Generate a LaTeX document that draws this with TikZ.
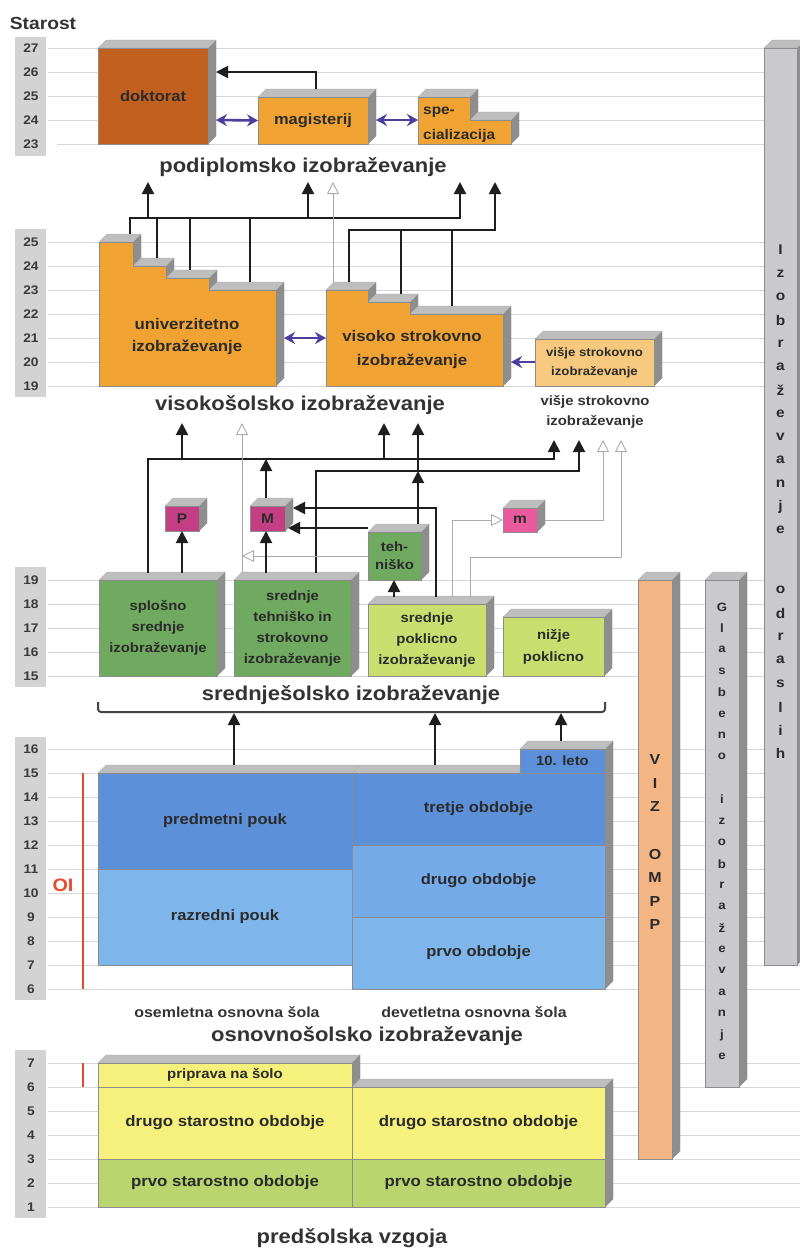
\documentclass[tikz,border=0pt]{standalone}
\usepackage{fontspec}
\setmainfont{Liberation Sans}[FakeStretch=1.1]
\usetikzlibrary{arrows.meta}
\definecolor{cgrid}{HTML}{D6D6D6}
\definecolor{cagecol}{HTML}{D3D3D3}
\definecolor{cage}{HTML}{3A3A3A}
\definecolor{ctopg}{HTML}{BEBEBE}
\definecolor{csideg}{HTML}{8E8E8E}
\definecolor{cdok}{HTML}{C2601F}
\definecolor{corange}{HTML}{F0A232}
\definecolor{cvisje}{HTML}{F6C97E}
\definecolor{cdgr}{HTML}{70A960}
\definecolor{clgr}{HTML}{C9DE6E}
\definecolor{cmag}{HTML}{C43E84}
\definecolor{cpink}{HTML}{EA5A9C}
\definecolor{cdblue}{HTML}{5C90D9}
\definecolor{cmblue}{HTML}{74AAE8}
\definecolor{clblue}{HTML}{7EB6EC}
\definecolor{cyel}{HTML}{F6F17C}
\definecolor{cpsgr}{HTML}{BAD46E}
\definecolor{cviz}{HTML}{F3B583}
\definecolor{cgreyb}{HTML}{C9C9CE}
\definecolor{cpur}{HTML}{4B3E9E}
\definecolor{carr}{HTML}{1E1E1E}
\definecolor{chol}{HTML}{ABABAB}
\definecolor{cred}{HTML}{E84A2E}
\definecolor{ctxt}{HTML}{2B2B2B}
\definecolor{chead}{HTML}{333333}
\definecolor{cbrk}{HTML}{444444}
\newcommand\fsz[2]{\fontsize{#1}{#2}\selectfont}
\newcommand\myfaces[4]{%
  \filldraw[sidef] (#3,#2) -- ({#3+8},{#2-8}) -- ({#3+8},{#4-8}) -- (#3,#4) -- cycle;
  \filldraw[topf] (#1,#2) -- ({#1+8},{#2-8}) -- ({#3+8},{#2-8}) -- (#3,#2) -- cycle;}
\newcommand\mybox[9]{%
  \myfaces{#2}{#3}{#4}{#5}
  \node[box, fill=#6, anchor=north west, minimum width={(#4-#2)*1pt}, minimum height={(#5-#3)*1pt}, font=\bfseries\fsz{#7}{#8}] (#1) at (#2,#3) {#9};}
\begin{document}
\begin{tikzpicture}[x=1pt,y=-1pt,
 gline/.style={draw=cgrid, line width=0.9pt},
 sidef/.style={fill=csideg, draw=black!45, line width=0.3pt},
 topf/.style={fill=ctopg, draw=black!35, line width=0.3pt},
 box/.style={draw=black!45, line width=0.4pt, inner sep=0pt, outer sep=0pt, align=center, text=ctxt},
 age/.style={font=\bfseries\fsz{12.5}{14}, text=cage, inner sep=0pt},
 head/.style={font=\bfseries\fsz{20}{24}, text=chead, inner sep=0pt},
 lab/.style={text=ctxt, inner sep=0pt, align=center},
 vl/.style={font=\bfseries\fsz{14}{14}, text=ctxt, inner sep=0pt},
 arr/.style={draw=carr, line width=2pt, -{Triangle[length=12pt,width=12pt]}},
 bus/.style={draw=carr, line width=2pt},
 drop/.style={draw=carr, line width=1.6pt},
 hol/.style={draw=chol, line width=0.9pt, -{Triangle[open,length=12pt,width=12pt,fill=white]}},
 lite/.style={draw=chol, line width=0.9pt},
 dar/.style={draw=cpur, line width=2.6pt, {Stealth[length=11pt,width=12pt]}-{Stealth[length=11pt,width=12pt]}},
 sar/.style={draw=cpur, line width=2.6pt, -{Stealth[length=11pt,width=12pt]}},
 redl/.style={draw=cred, line width=2.2pt},
 brk/.style={draw=cbrk, line width=2pt, rounded corners=3pt},
 frontf/.style={draw=black!45, line width=0.4pt}
]
\useasboundingbox (0,0) rectangle (800,1248);
\fill[white] (0,0) rectangle (800,1248);

% ---------- grid lines ----------
\foreach \y in {48,72,96,120} {\draw[gline] (48,\y) -- (800,\y);}
\draw[gline] (57,144) -- (800,144);
\foreach \y in {242,266,...,386} {\draw[gline] (48,\y) -- (800,\y);}
\foreach \y in {580,604,...,676} {\draw[gline] (48,\y) -- (800,\y);}
\foreach \y in {749,773,...,989} {\draw[gline] (48,\y) -- (800,\y);}
\foreach \y in {1063,1087,...,1207} {\draw[gline] (48,\y) -- (800,\y);}

% ---------- age columns ----------
\fill[cagecol] (15,37) rectangle (46,156);
\fill[cagecol] (15,229) rectangle (46,397);
\fill[cagecol] (15,567) rectangle (46,687);
\fill[cagecol] (15,737) rectangle (46,1000);
\fill[cagecol] (15,1050) rectangle (46,1218);
\foreach \a [count=\i from 0] in {27,...,23} {\node[age] (ageA\a) at (31,{48+24*\i}) {\a};}
\foreach \a [count=\i from 0] in {25,...,19} {\node[age] (ageB\a) at (31,{242+24*\i}) {\a};}
\foreach \a [count=\i from 0] in {19,...,15} {\node[age] (ageC\a) at (31,{580+24*\i}) {\a};}
\foreach \a [count=\i from 0] in {16,...,6} {\node[age] (ageD\a) at (31,{749+24*\i}) {\a};}
\foreach \a [count=\i from 0] in {7,...,1} {\node[age] (ageE\a) at (31,{1063+24*\i}) {\a};}
\node[head, font=\bfseries\fsz{17.5}{20}] (starost) at (43,23) {Starost};

% ---------- vertical bars ----------
\mybox{odr}{764}{48}{797}{965}{cgreyb}{14}{14}{}
\mybox{viz}{638}{580}{672}{1159}{cviz}{14}{14}{}
\mybox{glas}{705}{580}{739}{1087}{cgreyb}{12}{12}{}
\foreach \c [count=\i from 0] in {I,z,o,b,r,a,ž,e,v,a,n,j,e} {\node[vl] (odA\i) at (780.5,{250+23.35*\i}) {\c};}
\foreach \c [count=\i from 0] in {o,d,r,a,s,l,i,h} {\node[vl] (odB\i) at (780.5,{590+23.4*\i}) {\c};}
\foreach \c/\k in {V/0,I/1,Z/2,O/4,M/5,P/6,P/7} {\node[vl, font=\bfseries\fsz{14.5}{15}] (vz\k) at (655,{760+23.5*\k}) {\c};}
\foreach \c/\k in {G/0,l/1,a/2,s/3,b/4,e/5,n/6,o/7,i/9,z/10,o/11,b/12,r/13,a/14,ž/15,e/16,v/17,a/18,n/19,j/20,e/21} {\node[vl, font=\bfseries\fsz{12}{12}] (gl\k) at (722,{607+21.4*\k}) {\c};}

% ---------- podiplomsko ----------
\mybox{dokt}{98}{48}{208}{144}{cdok}{15}{18}{doktorat}
\mybox{magi}{258}{97}{368}{144}{corange}{15}{18}{magisterij}
\filldraw[sidef] (470,97) -- (478,89) -- (478,112) -- (470,120) -- cycle;
\filldraw[sidef] (511,120) -- (519,112) -- (519,136) -- (511,144) -- cycle;
\filldraw[topf] (418,97) -- (426,89) -- (478,89) -- (470,97) -- cycle;
\filldraw[topf] (470,120) -- (478,112) -- (519,112) -- (511,120) -- cycle;
\filldraw[frontf, fill=corange] (418,144) -- (418,97) -- (470,97) -- (470,120) -- (511,120) -- (511,144) -- cycle;
\node[lab, anchor=west, font=\bfseries\fsz{14}{16}] (spe1) at (423,112) {spe-};
\node[lab, anchor=west, font=\bfseries\fsz{14}{16}] (spe2) at (423,136) {cializacija};
\node[head] (podipl) at (303,167) {podiplomsko izobraževanje};

% ---------- visokošolsko ----------
% univerzitetno (stepped)
\filldraw[sidef] (133,242) -- (141,234) -- (141,258) -- (133,266) -- cycle;
\filldraw[sidef] (166,266) -- (174,258) -- (174,270) -- (166,278) -- cycle;
\filldraw[sidef] (209,278) -- (217,270) -- (217,282) -- (209,290) -- cycle;
\filldraw[sidef] (276,290) -- (284,282) -- (284,378) -- (276,386) -- cycle;
\filldraw[topf] (99,242) -- (107,234) -- (141,234) -- (133,242) -- cycle;
\filldraw[topf] (133,266) -- (141,258) -- (174,258) -- (166,266) -- cycle;
\filldraw[topf] (166,278) -- (174,270) -- (217,270) -- (209,278) -- cycle;
\filldraw[topf] (209,290) -- (217,282) -- (284,282) -- (276,290) -- cycle;
\filldraw[frontf, fill=corange] (99,386) -- (99,242) -- (133,242) -- (133,266) -- (166,266) -- (166,278) -- (209,278) -- (209,290) -- (276,290) -- (276,386) -- cycle;
\node[lab, font=\bfseries\fsz{15.3}{22}] (univt) at (187,337) {univerzitetno\\izobraževanje};
% visoko strokovno (stepped)
\filldraw[sidef] (368,290) -- (376,282) -- (376,294) -- (368,302) -- cycle;
\filldraw[sidef] (410,302) -- (418,294) -- (418,306) -- (410,314) -- cycle;
\filldraw[sidef] (503,314) -- (511,306) -- (511,378) -- (503,386) -- cycle;
\filldraw[topf] (326,290) -- (334,282) -- (376,282) -- (368,290) -- cycle;
\filldraw[topf] (368,302) -- (376,294) -- (418,294) -- (410,302) -- cycle;
\filldraw[topf] (410,314) -- (418,306) -- (511,306) -- (503,314) -- cycle;
\filldraw[frontf, fill=corange] (326,386) -- (326,290) -- (368,290) -- (368,302) -- (410,302) -- (410,314) -- (503,314) -- (503,386) -- cycle;
\node[lab, font=\bfseries\fsz{15.3}{24.5}] (vist) at (412,349.5) {visoko strokovno\\izobraževanje};
\mybox{visje}{535}{339}{654}{386}{cvisje}{12}{19}{višje strokovno\\izobraževanje}
\node[head] (visok) at (300,405) {visokošolsko izobraževanje};
\node[lab, font=\bfseries\fsz{13.5}{20}, text=chead] (visjelab) at (595,412) {višje strokovno\\izobraževanje};

% ---------- srednješolsko ----------
\mybox{splo}{99}{580}{217}{676}{cdgr}{13.5}{21}{splošno\\srednje\\izobraževanje}
\mybox{srteh}{234}{580}{351}{676}{cdgr}{13.5}{21}{srednje\\tehniško in\\strokovno\\izobraževanje}
\mybox{pokl}{368}{604}{486}{676}{clgr}{13.5}{21}{srednje\\poklicno\\izobraževanje}
\mybox{nizje}{503}{617}{604}{676}{clgr}{13.5}{22}{nižje\\poklicno}
\mybox{tehn}{368}{532}{421}{580}{cdgr}{13.5}{18}{teh-\\niško}
\mybox{pbox}{165}{506}{199}{531}{cmag}{14}{16}{P}
\mybox{mbox}{250}{506}{285}{531}{cmag}{14}{16}{M}
\mybox{mmbox}{503}{508}{537}{532}{cpink}{14}{16}{m}
\node[head] (sredn) at (351,695) {srednješolsko izobraževanje};
\coordinate (brL) at (98,702);
\coordinate (brR) at (605,702);
\draw[brk] (brL) -- (98,712) -- (605,712) -- (brR);

% ---------- osnovnošolsko ----------
\filldraw[topf] (98,773) -- (106,765) -- (360,765) -- (352,773) -- cycle;
\node[box, fill=cdblue, anchor=north west, minimum width=254pt, minimum height=96pt, font=\bfseries\fsz{15}{18}] (predm) at (98,773) {predmetni pouk};
\node[box, fill=clblue, anchor=north west, minimum width=254pt, minimum height=96pt, font=\bfseries\fsz{15}{18}] (razr) at (98,869) {razredni pouk};
\filldraw[topf] (352,773) -- (360,765) -- (520,765) -- (520,773) -- cycle;
\filldraw[sidef] (605,749) -- (613,741) -- (613,981) -- (605,989) -- cycle;
\filldraw[topf] (520,749) -- (528,741) -- (613,741) -- (605,749) -- cycle;
\node[box, fill=cdblue, anchor=north west, minimum width=253pt, minimum height=72pt, font=\bfseries\fsz{15}{18}] (tretje) at (352,773) {tretje obdobje};
\node[box, fill=cmblue, anchor=north west, minimum width=253pt, minimum height=72pt, font=\bfseries\fsz{15}{18}] (drugo) at (352,845) {drugo obdobje};
\node[box, fill=clblue, anchor=north west, minimum width=253pt, minimum height=72pt, font=\bfseries\fsz{15}{18}] (prvo) at (352,917) {prvo obdobje};
\node[box, fill=cdblue, anchor=north west, minimum width=85pt, minimum height=24pt, font=\bfseries\fsz{13.5}{16}] (leto) at (520,749) {10. leto};
\coordinate (oiT) at (83,773);
\coordinate (oiB) at (83,989);
\draw[redl] (oiT) -- (oiB);
\node[lab, font=\bfseries\fsz{18}{20}, text=cred] (oi) at (63,885) {OI};
\node[lab, font=\bfseries\fsz{14.5}{17}, text=chead] (osem) at (227,1012) {osemletna osnovna šola};
\node[lab, font=\bfseries\fsz{14.5}{17}, text=chead] (devet) at (474,1012) {devetletna osnovna šola};
\node[head] (osnov) at (367,1036) {osnovnošolsko izobraževanje};

% ---------- predšolska ----------
\filldraw[topf] (98,1063) -- (106,1055) -- (360,1055) -- (352,1063) -- cycle;
\filldraw[sidef] (352,1063) -- (360,1055) -- (360,1079) -- (352,1087) -- cycle;
\filldraw[topf] (352,1087) -- (360,1079) -- (613,1079) -- (605,1087) -- cycle;
\filldraw[sidef] (605,1087) -- (613,1079) -- (613,1199) -- (605,1207) -- cycle;
\node[box, fill=cyel, anchor=north west, minimum width=254pt, minimum height=24pt, font=\bfseries\fsz{13.6}{16}] (pripr) at (98,1063) {priprava na šolo};
\node[box, fill=cyel, anchor=north west, minimum width=254pt, minimum height=72pt, font=\bfseries\fsz{15.3}{18}] (drugoL) at (98,1087) {drugo starostno obdobje};
\node[box, fill=cpsgr, anchor=north west, minimum width=254pt, minimum height=48pt, font=\bfseries\fsz{15.3}{18}] (prvoL) at (98,1159) {prvo starostno obdobje};
\node[box, fill=cyel, anchor=north west, minimum width=253pt, minimum height=72pt, font=\bfseries\fsz{15.3}{18}] (drugoR) at (352,1087) {drugo starostno obdobje};
\node[box, fill=cpsgr, anchor=north west, minimum width=253pt, minimum height=48pt, font=\bfseries\fsz{15.3}{18}] (prvoR) at (352,1159) {prvo starostno obdobje};
\coordinate (oi2T) at (83,1063);
\coordinate (oi2B) at (83,1087);
\draw[redl] (oi2T) -- (oi2B);
\node[head] (predsol) at (352,1238) {predšolska vzgoja};

% ---------- connectors: podiplomsko ----------
\coordinate (magTop) at (316,89);
\coordinate (doktSide) at (216,72);
\draw[arr] (magTop) -- (316,72) -- (doktSide);
\draw[dar] (216,120) -- (magi.west);
\draw[dar] (376,120) -- (418,120);
% bus from univerzitetno
\coordinate (u1) at (130,234);
\coordinate (u2) at (157,258);
\coordinate (u3) at (190,270);
\coordinate (u4) at (250,282);
\coordinate (pT1) at (148,182);
\coordinate (pT2) at (308,182);
\coordinate (pT3) at (460,182);
\coordinate (pT4) at (495,182);
\coordinate (pH) at (333,182);
\draw[arr] (u1) -- (130,218) -- (460,218) -- (pT3);
\draw[drop] (u2) -- (157,218);
\draw[drop] (u3) -- (190,218);
\draw[drop] (u4) -- (250,218);
\draw[arr] (148,218) -- (pT1);
\draw[arr] (308,218) -- (pT2);
% bus from visoko strokovno
\coordinate (v1) at (349,282);
\coordinate (v2) at (401,294);
\coordinate (v3) at (452,306);
\coordinate (vh) at (333,282);
\draw[arr] (v1) -- (349,230) -- (495,230) -- (pT4);
\draw[drop] (v2) -- (401,230);
\draw[drop] (v3) -- (452,230);
\draw[hol] (vh) -- (pH);
\draw[dar] (284,338) -- (326,338);
\draw[sar] (visje.west |- 0,362) -- (511,362);

% ---------- connectors: srednješolsko -> visokošolsko ----------
\coordinate (qT1) at (182,423);
\coordinate (qT2) at (384,423);
\coordinate (qT3) at (418,423);
\coordinate (qH) at (242,423);
\coordinate (wT1) at (554,440);
\coordinate (wT2) at (579,440);
\coordinate (wH1) at (603,440);
\coordinate (wH2) at (621,440);
\coordinate (sp1) at (148,573);
\coordinate (sp2) at (182,573);
\coordinate (st1) at (242,573);
\coordinate (st2) at (266,573);
\coordinate (st3) at (316,573);
\coordinate (pk1) at (394,597);
\coordinate (pk2) at (436,597);
\coordinate (pk3) at (452,597);
\coordinate (pk4) at (470,597);
\draw[arr] (sp1) -- (148,459) -- (554,459) -- (wT1);
\draw[arr] (182,459) -- (qT1);
\draw[arr] (384,459) -- (qT2);
\draw[arr] (266,498) -- (266,459);
\draw[arr] (st3) -- (316,471) -- (579,471) -- (wT2);
\draw[arr] (418,524) -- (418,471);
\draw[arr] (418,471) -- (qT3);
\draw[hol] (st1) -- (qH);
\draw[hol] (tehn.west |- 0,556) -- (242,556);
\draw[arr] (sp2) -- (pbox.south);
\draw[arr] (st2) -- (mbox.south -| 266,0);
\draw[arr] (pk2) -- (436,508) -- (293,508);
\draw[arr] (368,528) -- (288,528);
\draw[arr] (pk1) -- (tehn.south -| 394,0);
\draw[hol] (pk3) -- (452,520) -- (mmbox.west |- 0,520);
\draw[hol] (545,520) -- (603,520) -- (wH1);
\draw[hol] (pk4) -- (470,557) -- (621,557) -- (wH2);

% ---------- connectors: osnovnošolsko -> srednješolsko ----------
\coordinate (b1) at (234,765);
\coordinate (b2) at (435,765);
\coordinate (b3) at (561,741);
\draw[arr] (b1) -- (234,713);
\draw[arr] (b2) -- (435,713);
\draw[arr] (b3) -- (561,713);
\end{tikzpicture}
\end{document}
